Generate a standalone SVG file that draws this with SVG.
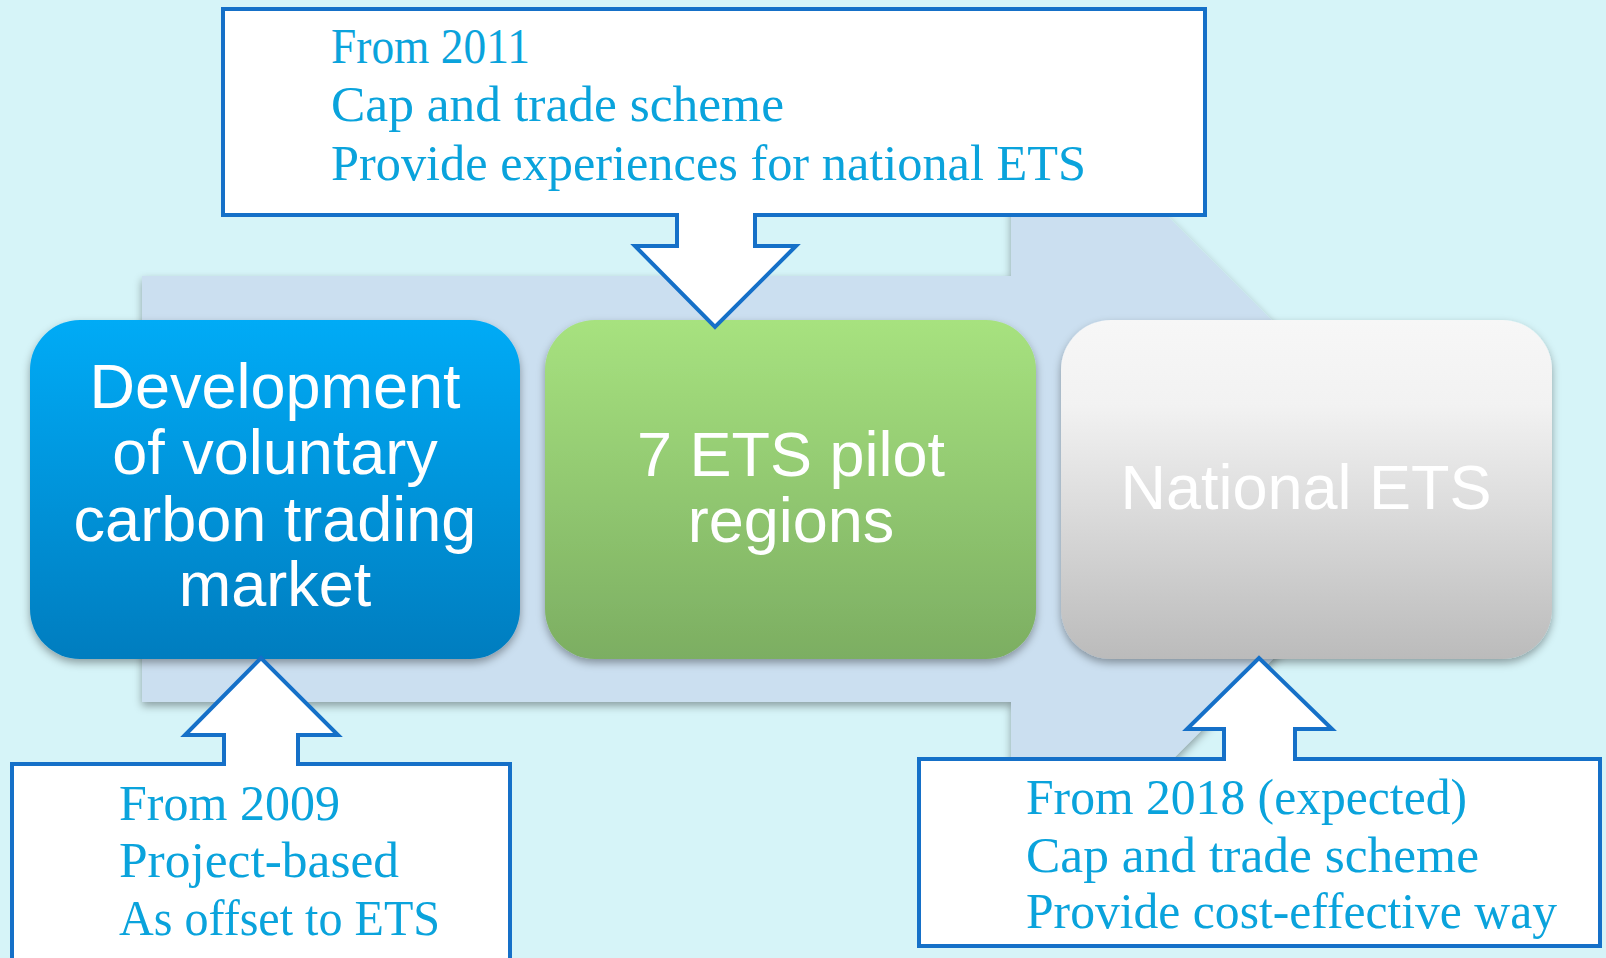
<svg xmlns="http://www.w3.org/2000/svg" width="1606" height="958" viewBox="0 0 1606 958">
<defs>
<linearGradient id="gBlue" x1="0" y1="0" x2="0" y2="1"><stop offset="0" stop-color="#03abf6"/><stop offset="1" stop-color="#027dbf"/></linearGradient>
<linearGradient id="gGreen" x1="0" y1="0" x2="0" y2="1"><stop offset="0" stop-color="#a7e27f"/><stop offset="1" stop-color="#7cae62"/></linearGradient>
<linearGradient id="gGray" x1="0" y1="0" x2="0" y2="1"><stop offset="0" stop-color="#f7f7f7"/><stop offset="0.25" stop-color="#f2f2f2"/><stop offset="1" stop-color="#bbbbbb"/></linearGradient>
<filter id="sh" x="-10%" y="-10%" width="120%" height="130%"><feDropShadow dx="0" dy="4" stdDeviation="4" flood-color="#000" flood-opacity="0.35"/></filter>
<style>
.node text{font-family:"Liberation Sans",Arial,sans-serif;font-size:63px;fill:#fff;text-anchor:middle}
.call path{fill:#fff;stroke:#1570c8;stroke-width:4;stroke-linejoin:miter}
.call text{font-family:"Liberation Serif","Times New Roman",serif;font-size:50px;fill:#0aa3dc}
</style>
</defs>
<rect width="1606" height="958" fill="#d6f4f8"/>
<g id="bgArrow">
<path d="M142,276 L1011,276 L1011,60 L1442,490 L1011,921 L1011,702 L142,702 Z" fill="#cbdff0" filter="url(#sh)"/>
</g>
<g id="node1" class="node">
<rect x="30" y="320" width="490" height="339" rx="50" fill="url(#gBlue)" filter="url(#sh)"/>
<text x="275" y="408">Development</text>
<text x="275" y="474">of voluntary</text>
<text x="275" y="541">carbon trading</text>
<text x="275" y="606">market</text>
</g>
<g id="node2" class="node">
<rect x="545" y="320" width="491" height="339" rx="50" fill="url(#gGreen)" filter="url(#sh)"/>
<text x="791" y="476">7 ETS pilot</text>
<text x="791" y="542">regions</text>
</g>
<g id="node3" class="node">
<rect x="1061" y="320" width="491" height="339" rx="50" fill="url(#gGray)" filter="url(#sh)"/>
<text x="1306" y="509">National ETS</text>
</g>
<g id="connectors">
<g id="call1" class="call">
<path d="M223,9 L1205,9 L1205,215 L755,215 L755,246 L796,246 L715,327 L635,246 L677,246 L677,215 L223,215 Z"/>
<text x="331" y="63" textLength="199" lengthAdjust="spacingAndGlyphs">From 2011</text>
<text x="331" y="121" textLength="453" lengthAdjust="spacingAndGlyphs">Cap and trade scheme</text>
<text x="331" y="180" textLength="755" lengthAdjust="spacingAndGlyphs">Provide experiences for national ETS</text>
</g>
<g id="call2" class="call">
<path d="M12,965 L12,764 L224,764 L224,735 L185,735 L261,658 L338,735 L298,735 L298,764 L510,764 L510,965"/>
<text x="119" y="820" textLength="221" lengthAdjust="spacingAndGlyphs">From 2009</text>
<text x="119" y="877" textLength="280" lengthAdjust="spacingAndGlyphs">Project-based</text>
<text x="119" y="935" textLength="321" lengthAdjust="spacingAndGlyphs">As offset to ETS</text>
</g>
<g id="call3" class="call">
<path d="M919,759 L1224,759 L1224,729 L1187,729 L1259,658 L1332,729 L1295,729 L1295,759 L1600,759 L1600,946 L919,946 Z"/>
<text x="1026" y="814" textLength="441" lengthAdjust="spacingAndGlyphs">From 2018 (expected)</text>
<text x="1026" y="872" textLength="453" lengthAdjust="spacingAndGlyphs">Cap and trade scheme</text>
<text x="1026" y="928" textLength="531" lengthAdjust="spacingAndGlyphs">Provide cost-effective way</text>
</g>
</g>
</svg>
